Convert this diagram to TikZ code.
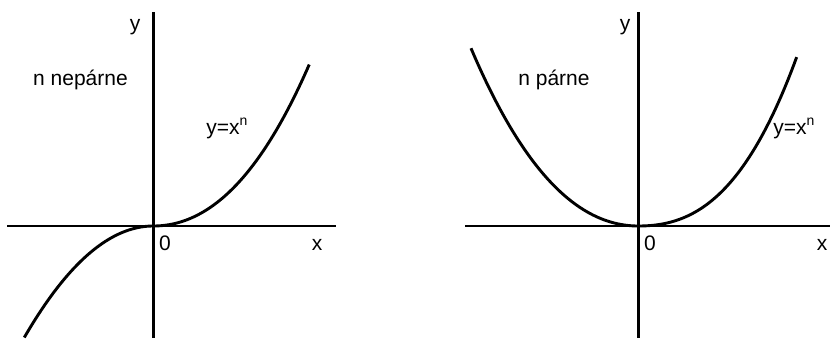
\documentclass[tikz,border=0pt]{standalone}
\usepackage{fontspec}
\setmainfont{Liberation Sans}
\newcommand{\supn}{\raisebox{0.42em}{\fontsize{14}{16}\selectfont n}}
\begin{document}
\begin{tikzpicture}[x=1pt,y=-1pt,
  axis/.style={line width=2.7pt},
  curve/.style={line width=2.9pt},
  lbl/.style={inner sep=0pt,font=\fontsize{21}{25}\selectfont}]
\useasboundingbox (0,0) rectangle (830,338);
% left plot
\coordinate (lxa) at (7,226);
\coordinate (lxb) at (336,226);
\coordinate (lya) at (153.3,12);
\coordinate (lyb) at (153.3,338);
\coordinate (lo) at (153.3,226);
\draw[axis] (lxa) -- (lxb);
\draw[axis] (lya) -- (lyb);
\draw[curve,shift={(lo)},variable=\t]
  plot[domain=-1.29:0,samples=60,smooth] ({100*\t},{67*\t*\t})
  -- plot[domain=0:1.56,samples=60,smooth] ({100*\t},{-(51.9*\t*\t+9.3*\t*\t*\t)});
\node[lbl] (ly) at (135,27) {y};
\node[lbl] (lx) at (317,245) {x};
\node[lbl] (l0) at (165,243) {0};
\node[lbl] (ltitle) at (80.5,80) {n nepárne};
\node[lbl] (lfun) at (227,128) {y=x\supn};
% right plot
\coordinate (rxa) at (465,226);
\coordinate (rxb) at (830,226);
\coordinate (rya) at (638.3,12);
\coordinate (ryb) at (638.3,338);
\coordinate (ro) at (638.3,226);
\draw[axis] (rxa) -- (rxb);
\draw[axis] (rya) -- (ryb);
\draw[curve,shift={(ro)},variable=\t]
  plot[domain=-1.673:0,samples=60,smooth] ({100*\t},{-(49.84*\t*\t-8.17*\t*\t*\t)})
  -- plot[domain=0:1.584,samples=60,smooth] ({100*\t},{-(29.5*\t*\t+23.9*\t*\t*\t)});
\node[lbl] (ry) at (625,27) {y};
\node[lbl] (rx) at (822,245) {x};
\node[lbl] (r0) at (650,243) {0};
\node[lbl] (rtitle) at (554,80) {n párne};
\node[lbl] (rfun) at (794,128) {y=x\supn};
\end{tikzpicture}
\end{document}
